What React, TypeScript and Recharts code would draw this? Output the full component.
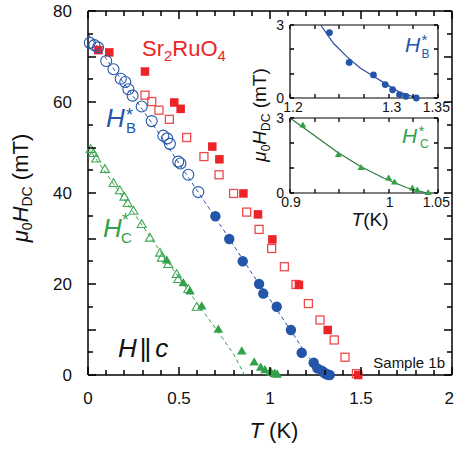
import React from "react";
import { ComposedChart, Scatter, XAxis, YAxis } from "recharts";

const FONT = "'Liberation Sans', Arial, Helvetica, sans-serif";
const BLUE = "#2356a8";
const RED = "#ec2327";
const RED_OPEN = "#ef4a4a";
const GREEN = "#33a04a";
const GREEN_OPEN = "#3fa957";
const BLUE_FIT = "#2c4ea0";
const GREEN_FIT = "#2b7a39";

// main panel: T (K) vs mu0 H_DC (mT)
const blueOpen = [
  [0.01, 73.0], [0.035, 72.5], [0.055, 72.0], [0.1, 69.0], [0.14, 67.2], [0.18, 65.1],
  [0.205, 64.4], [0.222, 62.8], [0.245, 61.4], [0.295, 59.0], [0.35, 55.8], [0.414, 52.6],
  [0.435, 52.0], [0.45, 50.8], [0.496, 46.9], [0.508, 46.5], [0.551, 44.0], [0.606, 40.2],
];
const blueFilled = [
  [0.7, 34.9], [0.776, 29.9], [0.85, 25.0], [0.94, 20.0], [0.963, 17.9], [1.037, 15.0],
  [1.115, 9.9], [1.174, 4.9], [1.24, 2.69], [1.26, 1.46], [1.2846, 0.95], [1.2965, 0.55],
  [1.304, 0.34], [1.311, 0.14], [1.3175, 0.07], [1.328, 0],
];
const blueGuide = [
  [0, 75], [0.1, 69.5], [0.2, 64], [0.3, 58.3], [0.4, 52.5], [0.5, 46.5], [0.6, 40.5],
  [0.7, 34.6], [0.8, 28.5], [0.9, 22.4], [1.0, 16.6], [1.1, 10.6], [1.15, 7.6], [1.2, 4.4],
  [1.25, 2.2], [1.3, 0.6], [1.335, 0],
];
const greenOpen = [
  [0.015, 49.5], [0.03, 48.6], [0.045, 47.4], [0.093, 45.1], [0.14, 42.0], [0.175, 40.4],
  [0.2, 39.0], [0.218, 37.6], [0.25, 35.9], [0.295, 33.0], [0.34, 30.0], [0.396, 26.7],
  [0.405, 25.6], [0.441, 24.2], [0.487, 22.0], [0.496, 20.9], [0.551, 18.7], [0.597, 14.8],
];
const greenFilled = [
  [0.432, 25.1], [0.524, 20.1], [0.56, 18.3], [0.625, 15.0], [0.716, 9.9], [0.845, 5.1],
  [0.913, 2.7], [0.949, 1.52], [0.972, 1.0], [1.0, 0.58], [1.006, 0.42], [1.024, 0.18],
  [1.029, 0.1], [1.04, 0],
];
const greenGuide = [[0, 50], [0.2, 38.6], [0.4, 27], [0.6, 15.8], [0.7, 10.3], [0.8, 4.6], [0.86, 0]];
const redFilled = [
  [0.057, 71.4], [0.117, 70.9], [0.313, 66.7], [0.474, 59.9], [0.509, 58.5], [0.683, 50.2],
  [0.722, 47.4], [0.854, 39.9], [0.934, 35.3], [1.013, 29.8], [1.159, 19.8], [1.317, 9.9],
  [1.485, 0],
];
const redOpen = [
  [0.313, 61.5], [0.35, 60.1], [0.39, 58.2], [0.447, 56.2], [0.542, 52.2], [0.637, 48.0],
  [0.72, 44.0], [0.8, 39.9], [0.872, 35.8], [0.94, 32.0], [1.009, 27.8], [1.079, 23.8],
  [1.143, 19.9], [1.211, 15.7], [1.275, 12.1], [1.353, 7.7], [1.412, 3.9], [1.475, 0.3],
];

// insets (zoom near the onset)
const insetB = [
  [1.24, 2.69], [1.26, 1.46], [1.2846, 0.95], [1.2965, 0.55], [1.304, 0.34], [1.311, 0.14],
  [1.3175, 0.07], [1.328, 0],
];
const insetBFit = [
  [1.2311, 3.0], [1.244, 2.25], [1.2576, 1.7], [1.2711, 1.23], [1.2846, 0.89], [1.2982, 0.55],
  [1.3117, 0.23], [1.3287, 0],
];
const insetC = [
  [0.913, 2.7], [0.949, 1.52], [0.972, 1.0], [1.0, 0.58], [1.006, 0.42], [1.024, 0.18],
  [1.029, 0.1], [1.04, 0],
];
const insetCFit = [
  [0.9, 3.0], [0.9237, 2.33], [0.9474, 1.65], [0.9711, 1.07], [0.9948, 0.6], [1.0185, 0.21],
  [1.0388, 0],
];

// ticks
const mainXTicks = [0, 0.1, 0.2, 0.3, 0.4, 0.5, 0.6, 0.7, 0.8, 0.9, 1, 1.1, 1.2, 1.3, 1.4, 1.5, 1.6, 1.7, 1.8, 1.9, 2];
const mainXMajor = [0, 0.5, 1, 1.5, 2];
const mainYTicks = [0, 5, 10, 15, 20, 25, 30, 35, 40, 45, 50, 55, 60, 65, 70, 75, 80];
const mainYMajor = [0, 10, 20, 30, 40, 50, 60, 70, 80];
const mainYLabels = [0, 20, 40, 60, 80];
const insetYTicks = [0, 1, 2, 3];
const insetYLabels = [0, 3];
const insetBXTicks = [1.2, 1.225, 1.25, 1.275, 1.3, 1.325, 1.35];
const insetBXLabels = [1.2, 1.3, 1.35];
const insetCXTicks = [0.9, 0.925, 0.95, 0.975, 1, 1.025, 1.05];
const insetCXLabels = [0.9, 1, 1.05];

const pts = (a: number[][]) => a.map(([x, y]) => ({ x, y }));
const has = (list: number[], v: number) => list.some((m) => Math.abs(m - v) < 1e-6);

// plot boxes that the chart margins below produce
type Box = { l: number; r: number; t: number; b: number; x: number[]; y: number[] };
const mainBox: Box = { l: 88, r: 452, t: 11, b: 375, x: [0, 2], y: [0, 80] };
const bBox: Box = { l: 290, r: 438, t: 25, b: 98, x: [1.2, 1.35], y: [0, 3] };
const cBox: Box = { l: 290, r: 438, t: 118, b: 193, x: [0.9, 1.05], y: [0, 3] };

// inward tick marks on all four sides, as filled paths snapped to the pixel grid
function Ticks(p: { box: Box; xt: number[]; yt: number[]; xm: number[]; ym: number[]; long: number; short: number; w: number }) {
  const { box, w } = p;
  const sx = (v: number) => Math.round(box.l + ((v - box.x[0]) / (box.x[1] - box.x[0])) * (box.r - box.l));
  const sy = (v: number) => Math.round(box.b - ((v - box.y[0]) / (box.y[1] - box.y[0])) * (box.b - box.t));
  let d = "";
  p.xt.forEach((v) => {
    const len = has(p.xm, v) ? p.long : p.short;
    const x = sx(v) - w / 2;
    d += `M${x},${box.b}h${w}v${-len}h${-w}zM${x},${box.t}h${w}v${len}h${-w}z`;
  });
  p.yt.forEach((v) => {
    const len = has(p.ym, v) ? p.long : p.short;
    const y = sy(v) - w / 2;
    d += `M${box.l},${y}v${w}h${len}v${-w}zM${box.r},${y}v${w}h${-len}v${-w}z`;
  });
  return <path d={d} fill="#000" />;
}

type Side = "bottom" | "left" | "none";
type TickOpts = { side: Side; labelled?: number[]; font?: number; gap?: number; maxX?: number; shift?: number };

function makeTick(o: TickOpts) {
  return (props: any) => {
    const x = Number(props.x);
    const y = Number(props.y);
    const v = Number(props.payload.value);
    const lbl = has(o.labelled || [], v) ? String(v) : null;
    const font = o.font || 14;
    let tx = x + (o.shift || 0);
    if (lbl && o.maxX) {
      const half = lbl.length * font * 0.28;
      if (tx + half > o.maxX) tx = o.maxX - half;
    }
    if (!lbl) return <g />;
    return o.side === "bottom" ? (
      <text x={tx} y={y + (o.gap || 0)} textAnchor="middle" fontSize={font} fontFamily={FONT} fill="#111">{lbl}</text>
    ) : (
      <text x={x - (o.gap || 0)} y={y} dy="0.36em" textAnchor="end" fontSize={font} fontFamily={FONT} fill="#111">{lbl}</text>
    );
  };
}

const circle = (r: number, color: string, open: boolean) => (p: any) =>
  open ? <circle cx={p.cx} cy={p.cy} r={r} fill="none" stroke={color} strokeWidth={1.1} />
    : <circle cx={p.cx} cy={p.cy} r={r} fill={color} />;
const square = (s: number, color: string, open: boolean) => (p: any) =>
  open ? <rect x={p.cx - s / 2} y={p.cy - s / 2} width={s} height={s} fill="none" stroke={color} strokeWidth={1.3} />
    : <rect x={p.cx - s / 2} y={p.cy - s / 2} width={s} height={s} fill={color} />;
const triangle = (s: number, color: string, open: boolean) => (p: any) => {
  const d = `${p.cx},${p.cy - s * 0.577} ${p.cx - s / 2},${p.cy + s * 0.289} ${p.cx + s / 2},${p.cy + s * 0.289}`;
  return open ? <polygon points={d} fill="none" stroke={color} strokeWidth={1.1} /> : <polygon points={d} fill={color} />;
};
const none = () => <g />;
const noTick = makeTick({ side: "none" });

export default function App() {
  const axisLine = { stroke: "#000", strokeWidth: 1.5 };
  const insetAxis = { stroke: "#000", strokeWidth: 1.2 };
  const common = { type: "number" as const, interval: 0 as const, tickSize: 0, tickMargin: 0, tickLine: false };
  return (
    <div style={{ position: "relative", width: 454, height: 450, background: "#fff" }}>
      <style>{"body{margin:0}"}</style>
      <div style={{ position: "absolute", left: 0, top: 0 }}>
        <ComposedChart width={454} height={450} margin={{ top: 10, right: 1, bottom: 0, left: 0 }}>
          <XAxis {...common} dataKey="x" domain={mainBox.x} ticks={mainXMajor} height={75} axisLine={axisLine}
            tick={makeTick({ side: "bottom", labelled: mainXMajor, font: 17, gap: 29, maxX: 454 })} />
          <XAxis {...common} xAxisId="top" orientation="top" domain={mainBox.x} ticks={mainXMajor} height={1} axisLine={axisLine} tick={noTick} />
          <YAxis {...common} dataKey="y" domain={mainBox.y} ticks={mainYLabels} width={88} axisLine={axisLine}
            tick={makeTick({ side: "left", labelled: mainYLabels, font: 17, gap: 16 })} />
          <YAxis {...common} yAxisId="right" orientation="right" domain={mainBox.y} ticks={mainYLabels} width={1} axisLine={axisLine} tick={noTick} />
          <Scatter data={pts(blueGuide)} shape={none} line={{ stroke: BLUE, strokeWidth: 1, strokeDasharray: "4 3" }} isAnimationActive={false} />
          <Scatter data={pts(greenGuide)} shape={none} line={{ stroke: GREEN, strokeWidth: 1, strokeDasharray: "4 3" }} isAnimationActive={false} />
          <Scatter data={pts(greenOpen)} shape={triangle(9, GREEN_OPEN, true)} isAnimationActive={false} />
          <Scatter data={pts(greenFilled)} shape={triangle(9.5, GREEN, false)} isAnimationActive={false} />
          <Scatter data={pts(redOpen)} shape={square(8, RED_OPEN, true)} isAnimationActive={false} />
          <Scatter data={pts(redFilled)} shape={square(8.5, RED, false)} isAnimationActive={false} />
          <Scatter data={pts(blueOpen)} shape={circle(5.5, BLUE, true)} isAnimationActive={false} />
          <Scatter data={pts(blueFilled)} shape={circle(5.2, BLUE, false)} isAnimationActive={false} />
        </ComposedChart>
      </div>

      <div style={{ position: "absolute", left: 268, top: 15 }}>
        <ComposedChart width={186} height={101} margin={{ top: 9, right: 15, bottom: 0, left: 0 }}>
          <XAxis {...common} dataKey="x" domain={bBox.x} ticks={insetBXLabels} height={18} axisLine={insetAxis}
            tick={makeTick({ side: "bottom", labelled: insetBXLabels, font: 14, gap: 14, shift: 3, maxX: 184 })} />
          <XAxis {...common} xAxisId="top" orientation="top" domain={bBox.x} ticks={insetBXLabels} height={1} axisLine={insetAxis} tick={noTick} />
          <YAxis {...common} dataKey="y" domain={bBox.y} ticks={insetYLabels} width={22} axisLine={insetAxis}
            tick={makeTick({ side: "left", labelled: insetYLabels, font: 14, gap: 6 })} />
          <YAxis {...common} yAxisId="right" orientation="right" domain={bBox.y} ticks={insetYLabels} width={1} axisLine={insetAxis} tick={noTick} />
          <Scatter data={pts(insetBFit)} shape={none} line={{ stroke: BLUE_FIT, strokeWidth: 1.2 }} isAnimationActive={false} />
          <Scatter data={pts(insetB)} shape={circle(3.4, BLUE, false)} isAnimationActive={false} />
        </ComposedChart>
      </div>

      <div style={{ position: "absolute", left: 268, top: 108 }}>
        <ComposedChart width={186} height={104} margin={{ top: 9, right: 15, bottom: 0, left: 0 }}>
          <XAxis {...common} dataKey="x" domain={cBox.x} ticks={insetCXLabels} height={19} axisLine={insetAxis}
            tick={makeTick({ side: "bottom", labelled: insetCXLabels, font: 14, gap: 14, shift: 1, maxX: 184 })} />
          <XAxis {...common} xAxisId="top" orientation="top" domain={cBox.x} ticks={insetCXLabels} height={1} axisLine={insetAxis} tick={noTick} />
          <YAxis {...common} dataKey="y" domain={cBox.y} ticks={insetYLabels} width={22} axisLine={insetAxis}
            tick={makeTick({ side: "left", labelled: insetYLabels, font: 14, gap: 6 })} />
          <YAxis {...common} yAxisId="right" orientation="right" domain={cBox.y} ticks={insetYLabels} width={1} axisLine={insetAxis} tick={noTick} />
          <Scatter data={pts(insetCFit)} shape={none} line={{ stroke: GREEN_FIT, strokeWidth: 1.2 }} isAnimationActive={false} />
          <Scatter data={pts(insetC)} shape={triangle(7, GREEN, false)} isAnimationActive={false} />
        </ComposedChart>
      </div>

      <svg width={454} height={450} style={{ position: "absolute", left: 0, top: 0, pointerEvents: "none", fontFamily: FONT }}>
        <Ticks box={mainBox} xt={mainXTicks} yt={mainYTicks} xm={mainXMajor} ym={mainYMajor} long={8} short={5} w={1.5} />
        <Ticks box={bBox} xt={insetBXTicks} yt={insetYTicks} xm={[]} ym={[]} long={4} short={4} w={1.3} />
        <Ticks box={cBox} xt={insetCXTicks} yt={insetYTicks} xm={[]} ym={[]} long={4} short={4} w={1.3} />

        {/* axis titles */}
        <text x={274} y={438} textAnchor="middle" fontSize={22} fill="#111">
          <tspan fontStyle="italic">T</tspan> (K)
        </text>
        <text transform="translate(28,188) rotate(-90)" textAnchor="middle" fontSize={22} fill="#111">
          <tspan fontStyle="italic">μ</tspan><tspan fontSize={14} dy={4}>0</tspan>
          <tspan dy={-4} fontStyle="italic">H</tspan><tspan fontSize={14} dy={4}>DC</tspan>
          <tspan dy={-4}> (mT)</tspan>
        </text>
        <text x={370} y={226} textAnchor="middle" fontSize={19} fill="#111">
          <tspan fontStyle="italic">T</tspan>(K)
        </text>
        <text transform="translate(266,115) rotate(-90)" textAnchor="middle" fontSize={19} fill="#111">
          <tspan fontStyle="italic">μ</tspan><tspan fontSize={12} dy={4}>0</tspan>
          <tspan dy={-4} fontStyle="italic">H</tspan><tspan fontSize={12} dy={4}>DC</tspan>
          <tspan dy={-4}> (mT)</tspan>
        </text>

        {/* annotations */}
        <text x={142} y={56} fontSize={22} fill={RED}>
          Sr<tspan fontSize={15} dy={5}>2</tspan><tspan dy={-5}>RuO</tspan><tspan fontSize={15} dy={5}>4</tspan>
        </text>
        <text x={106} y={127} fontSize={26} fontStyle="italic" fill={BLUE}>H</text>
        <text x={126} y={121} fontSize={18} fill={BLUE}>*</text>
        <text x={126} y={133} fontSize={15} fill={BLUE}>B</text>
        <text x={103} y={237} fontSize={26} fontStyle="italic" fill={GREEN}>H</text>
        <text x={122} y={226} fontSize={18} fill={GREEN}>*</text>
        <text x={121} y={243} fontSize={15} fill={GREEN}>C</text>
        <text x={118} y={357} fontSize={26} fill="#111">
          <tspan fontStyle="italic">H</tspan><tspan dx={3} letterSpacing={-2}>||</tspan><tspan dx={6} fontStyle="italic">c</tspan>
        </text>
        <text x={445} y={368} textAnchor="end" fontSize={15} fill="#111">Sample 1b</text>

        <text x={405} y={52} fontSize={21} fontStyle="italic" fill={BLUE}>H</text>
        <text x={421.5} y={45} fontSize={15} fill={BLUE}>*</text>
        <text x={421.5} y={58} fontSize={12} fill={BLUE}>B</text>
        <text x={402} y={143} fontSize={21} fontStyle="italic" fill={GREEN}>H</text>
        <text x={418.5} y={136} fontSize={15} fill={GREEN}>*</text>
        <text x={420} y={148} fontSize={12} fill={GREEN}>C</text>
      </svg>
    </div>
  );
}
